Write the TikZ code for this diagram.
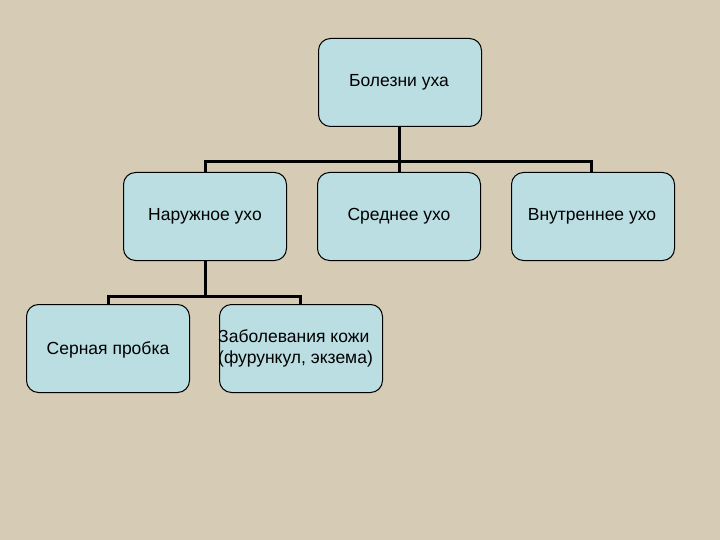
\documentclass[tikz,border=0pt]{standalone}
\usepackage{fontspec}
\setmainfont{Liberation Sans}
\definecolor{bg}{RGB}{214,203,181}
\definecolor{boxc}{RGB}{186,222,226}
\begin{document}
\begin{tikzpicture}[x=1pt,y=-1pt,
  box/.style={draw=black,line width=1pt,fill=boxc,rounded corners=12pt,minimum width=163pt,minimum height=88pt,inner sep=0pt,anchor=north west},
  lbl/.style={font=\fontsize{17.5}{21}\selectfont,inner sep=0pt},
  conn/.style={line width=3pt}]
\fill[bg] (0,0) rectangle (720,540);
\useasboundingbox (0,0) rectangle (720,540);
\node[box] (root) at (318,38) {};
\node[lbl] at (399,82) {Болезни уха};
\node[box] (n1) at (123,172) {};
\node[lbl] at (205,216) {Наружное ухо};
\node[box] (n2) at (317,172) {};
\node[lbl] at (399,216) {Среднее ухо};
\node[box] (n3) at (511,172) {};
\node[lbl] at (592,216) {Внутреннее ухо};
\node[box] (c1) at (26,304) {};
\node[lbl] at (108,350) {Серная пробка};
\node[box] (c2) at (219,304) {};
\node[lbl,anchor=west,align=left] at (218,348) {Заболевания кожи\\(фурункул, экзема)};
\coordinate (h1) at (399,162);
\coordinate (h2) at (205,296);
\draw[conn] (399,126) -- (h1);
\draw[conn] (205,172) |- (h1) -| (591,172);
\draw[conn] (399,172) -- (h1);
\draw[conn] (205,260) -- (h2);
\draw[conn] (108,304) |- (h2) -| (300,304);
\end{tikzpicture}
\end{document}
